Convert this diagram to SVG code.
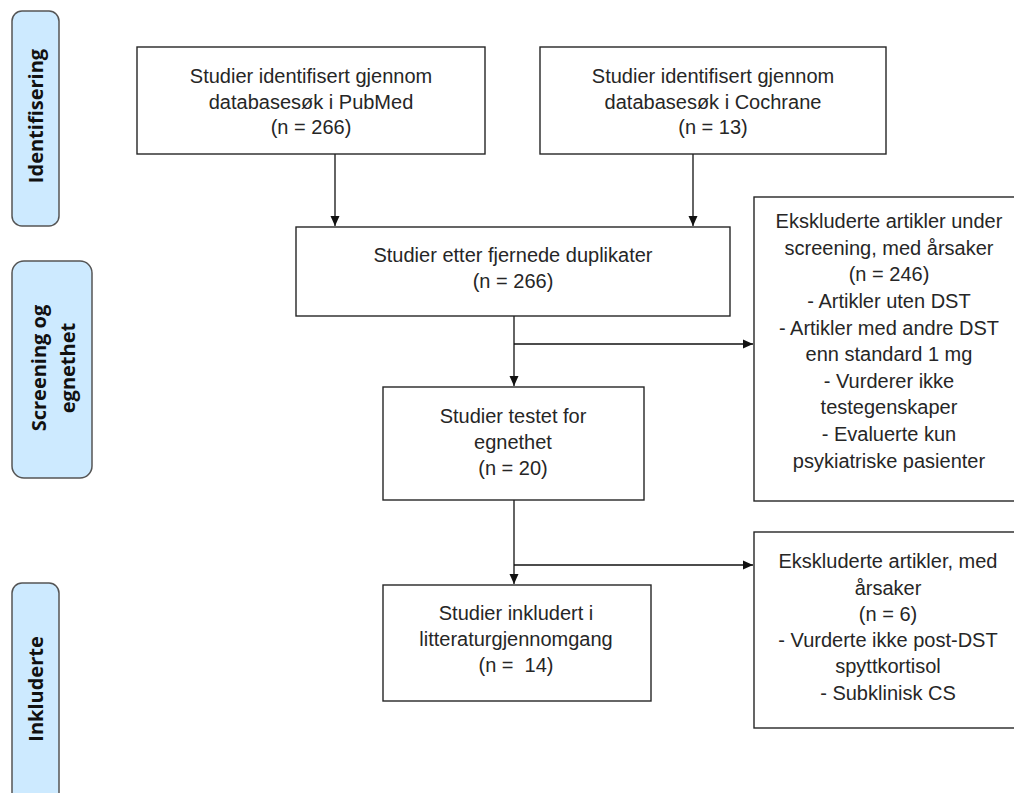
<svg xmlns="http://www.w3.org/2000/svg" width="1014" height="793" viewBox="0 0 1014 793">
<style>
.box{fill:#fff;stroke:#262626;stroke-width:1.4}
.side{fill:#cdeaff;stroke:#555;stroke-width:1.5}
.t{font-family:"Liberation Sans",Arial,sans-serif;font-size:20px;fill:#262626;text-anchor:middle}
.s{font-family:"Open Sans","Liberation Sans",sans-serif;font-size:20px;font-weight:bold;fill:#111;text-anchor:middle}
.c{fill:none;stroke:#111;stroke-width:1.3}
</style>
<defs>
<marker id="ah" markerWidth="12" markerHeight="12" refX="10" refY="5.5" orient="auto" markerUnits="userSpaceOnUse">
<path d="M0,1 L10,5.5 L0,10 Z" fill="#111"/>
</marker>
</defs>
<rect width="1014" height="793" fill="#fff"/>
<g id="side-identifisering">
<rect class="side" x="12" y="11" width="47" height="215" rx="10"/>
<text class="s" transform="translate(43,116) rotate(-90)">Identifisering</text>
</g>
<g id="side-screening">
<rect class="side" x="12" y="261" width="80" height="217" rx="12"/>
<text class="s" transform="translate(46,368) rotate(-90)">Screening og</text>
<text class="s" transform="translate(75,368) rotate(-90)">egnethet</text>
</g>
<g id="side-inkluderte">
<rect class="side" x="12" y="583" width="47" height="230" rx="10"/>
<text class="s" transform="translate(43,689) rotate(-90)">Inkluderte</text>
</g>
<g id="connectors">
<path class="c" d="M335,154 V226" marker-end="url(#ah)"/>
<path class="c" d="M693,154 V226" marker-end="url(#ah)"/>
<path class="c" d="M514,316 V386" marker-end="url(#ah)"/>
<path class="c" d="M514,344 H753" marker-end="url(#ah)"/>
<path class="c" d="M514,500 V584" marker-end="url(#ah)"/>
<path class="c" d="M514,565 H753" marker-end="url(#ah)"/>
</g>
<g id="pubmed">
<rect class="box" x="137" y="47" width="348" height="107"/>
<text class="t" x="311" y="83">Studier identifisert gjennom</text>
<text class="t" x="311" y="109">databasesøk i PubMed</text>
<text class="t" x="311" y="134">(n = 266)</text>
</g>
<g id="cochrane">
<rect class="box" x="540" y="47" width="346" height="107"/>
<text class="t" x="713" y="83">Studier identifisert gjennom</text>
<text class="t" x="713" y="109">databasesøk i Cochrane</text>
<text class="t" x="713" y="134">(n = 13)</text>
</g>
<g id="duplikater">
<rect class="box" x="296" y="227" width="434" height="89"/>
<text class="t" x="513" y="262">Studier etter fjernede duplikater</text>
<text class="t" x="513" y="288">(n = 266)</text>
</g>
<g id="ekskl-screening">
<rect class="box" x="754" y="197" width="270" height="304"/>
<text class="t" x="889" y="228">Ekskluderte artikler under</text>
<text class="t" x="889" y="255">screening, med årsaker</text>
<text class="t" x="889" y="281">(n = 246)</text>
<text class="t" x="889" y="308">- Artikler uten DST</text>
<text class="t" x="889" y="335">- Artikler med andre DST</text>
<text class="t" x="889" y="361">enn standard 1 mg</text>
<text class="t" x="889" y="388">- Vurderer ikke</text>
<text class="t" x="889" y="414">testegenskaper</text>
<text class="t" x="889" y="441">- Evaluerte kun</text>
<text class="t" x="889" y="468">psykiatriske pasienter</text>
</g>
<g id="egnethet">
<rect class="box" x="383" y="387" width="261" height="113"/>
<text class="t" x="513" y="423">Studier testet for</text>
<text class="t" x="513" y="449">egnethet</text>
<text class="t" x="513" y="475">(n = 20)</text>
</g>
<g id="ekskl-final">
<rect class="box" x="754" y="532" width="270" height="196"/>
<text class="t" x="888" y="568">Ekskluderte artikler, med</text>
<text class="t" x="888" y="595">årsaker</text>
<text class="t" x="888" y="621">(n = 6)</text>
<text class="t" x="888" y="647">- Vurderte ikke post-DST</text>
<text class="t" x="888" y="673">spyttkortisol</text>
<text class="t" x="888" y="700">- Subklinisk CS</text>
</g>
<g id="inkludert">
<rect class="box" x="383" y="585" width="268" height="116"/>
<text class="t" x="516" y="620">Studier inkludert i</text>
<text class="t" x="516" y="646">litteraturgjennomgang</text>
<text class="t" x="516" y="672" xml:space="preserve">(n =  14)</text>
</g>
</svg>
